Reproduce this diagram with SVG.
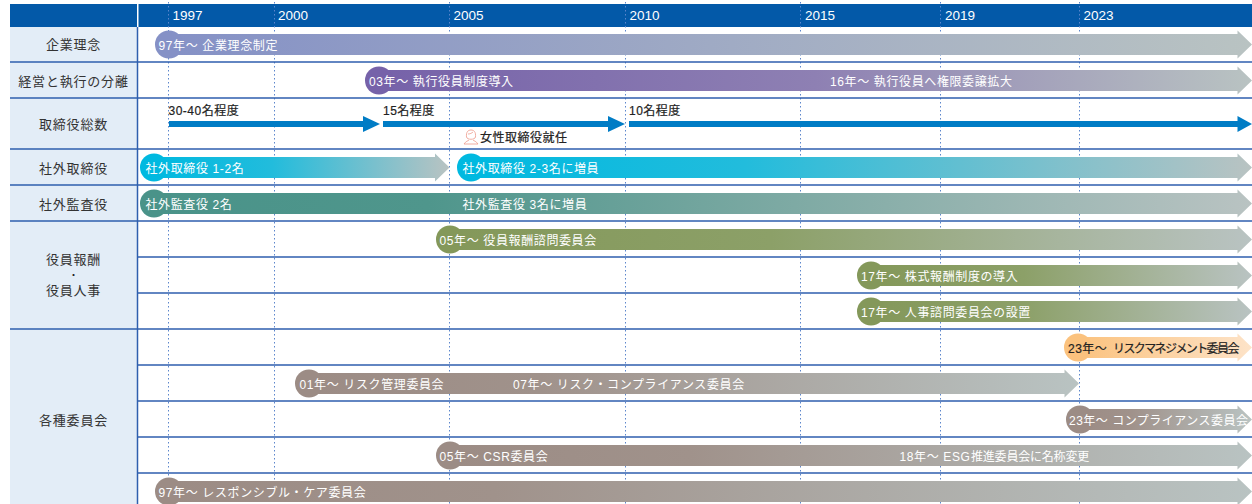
<svg xmlns="http://www.w3.org/2000/svg" width="1252" height="504" viewBox="0 0 1252 504">
<style>
text{font-family:"Liberation Sans","Noto Sans CJK JP",sans-serif}
.h{font-size:13px;letter-spacing:.8px;fill:#333;text-anchor:middle}
.d{font-size:10px;fill:#222;text-anchor:middle}
.y{font-size:13.500px;fill:#fff}
.w{font-size:12px;letter-spacing:.62px;fill:#fff}
.k{font-size:12px;letter-spacing:.5px;fill:#222;stroke:#222;stroke-width:.2px}
.rl{stroke:#2f5fae;stroke-width:1.500;fill:none}
.gl{stroke:#5c86cc;stroke-width:1;stroke-dasharray:1.500 2.500;fill:none}
</style>
<defs>
<linearGradient id="gP" x1="0" x2="1" y1="0" y2="0"><stop offset="0" stop-color="#8591c6"/><stop offset="1" stop-color="#b9c3c2"/></linearGradient>
<linearGradient id="gV" x1="0" x2="1" y1="0" y2="0"><stop offset="0" stop-color="#7662a9"/><stop offset="0.5" stop-color="#8e80b3"/><stop offset="1" stop-color="#b9c3c2"/></linearGradient>
<linearGradient id="gC" x1="0" x2="1" y1="0" y2="0"><stop offset="0" stop-color="#00b9e0"/><stop offset="0.4" stop-color="#22bcdc"/><stop offset="1" stop-color="#b9c3c2"/></linearGradient>
<linearGradient id="gC2" x1="0" x2="1" y1="0" y2="0"><stop offset="0" stop-color="#00b9e0"/><stop offset="0.35" stop-color="#22bcdc"/><stop offset="1" stop-color="#b9c3c2"/></linearGradient>
<linearGradient id="gT" x1="0" x2="1" y1="0" y2="0"><stop offset="0" stop-color="#4a9389"/><stop offset="0.25" stop-color="#4f968c"/><stop offset="1" stop-color="#b9c3c2"/></linearGradient>
<linearGradient id="gG" x1="0" x2="1" y1="0" y2="0"><stop offset="0" stop-color="#84985a"/><stop offset="0.4" stop-color="#8ca068"/><stop offset="1" stop-color="#b9c3c2"/></linearGradient>
<linearGradient id="gO" x1="0" x2="1" y1="0" y2="0"><stop offset="0" stop-color="#fbc27e"/><stop offset="1" stop-color="#fde3c8"/></linearGradient>
<linearGradient id="gB" x1="0" x2="1" y1="0" y2="0"><stop offset="0" stop-color="#9c8c85"/><stop offset="0.3" stop-color="#a0928b"/><stop offset="1" stop-color="#b9c3c2"/></linearGradient>
</defs>

<rect x="10" y="4" width="1242" height="23" fill="#0359a8"/>
<rect x="137" y="4" width="1.500" height="23" fill="#fff"/>
<rect x="10" y="27" width="127" height="477" fill="#e3edf7"/>

<g id="grid">
<path class="gl" d="M168.500 2V496M274.500 2V496M449.500 2V504M625.500 2V504M800.500 2V504M940.500 2V504M1079.500 2V504"/>
<path class="rl" d="M10 62H1252M10 98H1252M10 149H1252M10 185H1252M10 221H1252M138 257H1252M138 293H1252M10 329H1252M138 365H1252M138 401H1252M138 437H1252M138 473H1252M137.500 27V504"/>
</g>

<g id="years">
<text class="y" x="172.500" y="20">1997</text><text class="y" x="278" y="20">2000</text><text class="y" x="453.500" y="20">2005</text><text class="y" x="629.500" y="20">2010</text><text class="y" x="805" y="20">2015</text><text class="y" x="945" y="20">2019</text><text class="y" x="1083.500" y="20">2023</text>
</g>

<g id="row-labels">
<text class="h" x="73.500" y="49">企業理念</text>
<text class="h" x="73.500" y="85.500">経営と執行の分離</text>
<text class="h" x="73.500" y="129">取締役総数</text>
<text class="h" x="73.500" y="173">社外取締役</text>
<text class="h" x="73.500" y="209">社外監査役</text>
<text class="h" x="73.500" y="264">役員報酬</text>
<text class="d" x="73.500" y="279">・</text>
<text class="h" x="73.500" y="295">役員人事</text>
<text class="h" x="73.500" y="425">各種委員会</text>
</g>

<g id="connectors">
<g id="bar-rinen"><path fill="url(#gP)" d="M169 34H1237.500V30.500L1252 44.500L1237.500 58.500V55H169Z"/><circle cx="169" cy="44.500" r="14" fill="#8591c6"/><text class="w" x="158.500" y="49.500">97年～ 企業理念制定</text></g>
<g id="bar-bunri"><path fill="url(#gV)" d="M379 70H1237.500V66.500L1252 80.500L1237.500 94.500V91H379Z"/><circle cx="379" cy="80.500" r="14" fill="#7662a9"/><text class="w" x="369" y="85.500">03年～ 執行役員制度導入</text><text class="w" x="830" y="85.500">16年～ 執行役員へ権限委譲拡大</text></g>
<g id="bar-total" fill="#007cc5">
<path d="M169 121H363V116L380 124L363 132V127H169Z"/>
<path d="M383 121H608V116L625 124L608 132V127H383Z"/>
<path d="M629 121H1237.500V116L1252 124L1237.500 132V127H629Z"/>
<text class="k" x="168.500" y="115">30-40名程度</text><text class="k" x="383" y="115">15名程度</text><text class="k" x="629" y="115">10名程度</text>
<g fill="none" stroke="#ee9a8c" stroke-width="0.800"><path d="M466.500 137C466 132 468 130 471 130C474 130 476 132 475.500 137C475 140 467 140 466.500 137Z"/><path d="M468 134C470 134 472 133 473 132"/><path d="M464 144C466 141 468 141 469 140M478 144C476 141 474 141 473 140M464 144H478"/></g>
<text class="k" x="480" y="142">女性取締役就任</text>
</g>
<g id="bar-outdir"><path fill="url(#gC)" d="M154 157H435V153.500L449.500 167.500L435 181.500V178H154Z"/><circle cx="154" cy="167.500" r="14" fill="#00b9e0"/><text class="w" x="145.500" y="172.500">社外取締役 1-2名</text>
<path fill="url(#gC2)" d="M471 157H1237.500V153.500L1252 167.500L1237.500 181.500V178H471Z"/><circle cx="471" cy="167.500" r="14" fill="#00b9e0"/><text class="w" x="462.500" y="172.500">社外取締役 2-3名に増員</text></g>
<g id="bar-audit"><path fill="url(#gT)" d="M154 193H1237.500V189.500L1252 203.500L1237.500 217.500V214H154Z"/><circle cx="154" cy="203.500" r="14" fill="#4a9389"/><text class="w" x="145.500" y="208.500">社外監査役 2名</text><text class="w" x="462.500" y="208.500">社外監査役 3名に増員</text></g>
<g id="bar-comp"><path fill="url(#gG)" d="M450 229H1237.500V225.500L1252 239.500L1237.500 253.500V250H450Z"/><circle cx="450" cy="239.500" r="14" fill="#84985a"/><text class="w" x="439.500" y="244.500">05年～ 役員報酬諮問委員会</text></g>
<g id="bar-stock"><path fill="url(#gG)" d="M871 265H1237.500V261.500L1252 275.500L1237.500 289.500V286H871Z"/><circle cx="871" cy="275.500" r="14" fill="#84985a"/><text class="w" x="861" y="280.500">17年～ 株式報酬制度の導入</text></g>
<g id="bar-nomi"><path fill="url(#gG)" d="M871 301H1237.500V297.500L1252 311.500L1237.500 325.500V322H871Z"/><circle cx="871" cy="311.500" r="14" fill="#84985a"/><text class="w" x="861" y="316.500">17年～ 人事諮問委員会の設置</text></g>
<g id="bar-rm"><path fill="url(#gO)" d="M1078 337H1237.500V333.500L1252 347.500L1237.500 361.500V358H1078Z"/><circle cx="1078" cy="347.500" r="14" fill="#fbc27e"/><text class="k" x="1068" y="352.500">23年～ <tspan x="1113" letter-spacing="-1.600">リスクマネジメント委員会</tspan></text></g>
<g id="bar-risk"><path fill="url(#gB)" d="M309 373H1064.500V369.500L1079 383.500L1064.500 397.500V394H309Z"/><circle cx="309" cy="383.500" r="14" fill="#9c8c85"/><text class="w" x="299.500" y="388.500">01年～ リスク管理委員会</text><text class="w" x="513" y="388.500" letter-spacing=".7">07年～ リスク・コンプライアンス委員会</text></g>
<g id="bar-cc"><path fill="url(#gB)" d="M1080 409H1237.500V405.500L1252 419.500L1237.500 433.500V430H1080Z"/><circle cx="1080" cy="419.500" r="14" fill="#9c8c85"/><text class="w" x="1069" y="424.500" style="letter-spacing:.5px">23年～ コンプライアンス委員会</text></g>
<g id="bar-csr"><path fill="url(#gB)" d="M450 445H1237.500V441.500L1252 455.500L1237.500 469.500V466H450Z"/><circle cx="450" cy="455.500" r="14" fill="#9c8c85"/><text class="w" x="439.500" y="460.500">05年～ CSR委員会</text><text class="w" x="899.500" y="460.500">18年～ ESG<tspan x="971" style="letter-spacing:-.2px">推進委員会に名称変更</tspan></text></g>
<g id="bar-care"><path fill="url(#gB)" d="M169 481H1237.500V477.500L1252 491.500L1237.500 505.500V502H169Z"/><circle cx="169" cy="491.500" r="14" fill="#9c8c85"/><text class="w" x="158.500" y="496.500">97年～ レスポンシブル・ケア委員会</text></g>
</g>
</svg>
